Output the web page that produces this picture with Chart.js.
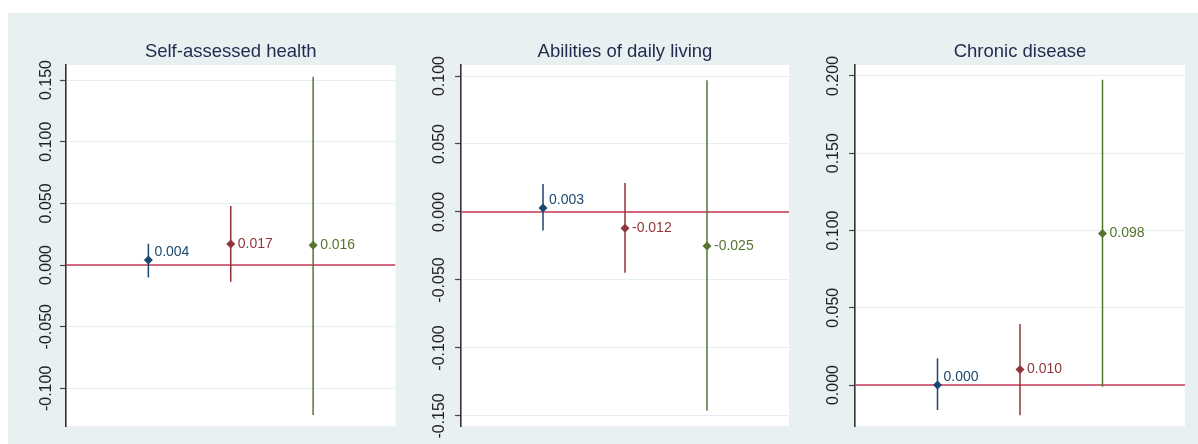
<!DOCTYPE html>
<html>
<head>
<meta charset="utf-8">
<script src="https://cdn.jsdelivr.net/npm/chart.js@4.4.8/dist/chart.umd.min.js"></script>
<style>
  html, body { margin: 0; padding: 0; background: #fff; }
  #bg { position: absolute; left: 8px; top: 13px; width: 1190px; height: 431px; background: #e9f0f2; overflow: hidden; }
  canvas { position: absolute; top: 0; }
</style>
</head>
<body>
<div id="bg">
  <canvas id="c0" width="392" height="431" style="left:0px"></canvas>
  <canvas id="c1" width="394" height="431" style="left:395px"></canvas>
  <canvas id="c2" width="401" height="431" style="left:789px"></canvas>
</div>
<script>
  // panel titles and groups
  const panelTitles = ['Self-assessed health', 'Abilities of daily living', 'Chronic disease'];
  const positions = [1, 2, 3];
  const seriesColors = ['#1a476f', '#90353b', '#55752f'];

  // self-assessed health
  const shEst = [0.004, 0.017, 0.016];
  const shLow = [-0.0100, -0.0135, -0.1215];
  const shHigh = [0.0172, 0.0478, 0.1527];
  const shTicks = [-0.10, -0.05, 0, 0.05, 0.10, 0.15];
  const shRange = [-0.1305, 0.1622];

  // abilities of daily living
  const adlEst = [0.003, -0.012, -0.025];
  const adlLow = [-0.0137, -0.0446, -0.1461];
  const adlHigh = [0.0206, 0.0213, 0.0968];
  const adlTicks = [-0.15, -0.10, -0.05, 0, 0.05, 0.10];
  const adlRange = [-0.1574, 0.1081];

  // chronic disease
  const cdEst = [0.000, 0.010, 0.098];
  const cdLow = [-0.0162, -0.0196, -0.0011];
  const cdHigh = [0.0173, 0.0395, 0.1976];
  const cdTicks = [0, 0.05, 0.10, 0.15, 0.20];
  const cdRange = [-0.0265, 0.2071];

  const FONT = "'Liberation Sans', Arial, sans-serif";

  // white plot region + title centred over the plot region (stata style)
  const plotBg = {
    id: 'plotBg',
    beforeDraw(chart) {
      const a = chart.chartArea;
      const c = chart.ctx;
      c.save();
      c.fillStyle = '#ffffff';
      c.fillRect(a.left, a.top, a.right - a.left, a.bottom - a.top);
      c.font = '18.5px ' + FONT;
      c.fillStyle = '#1f2b4e';
      c.textAlign = 'center';
      c.textBaseline = 'alphabetic';
      c.fillText(chart.options.panelTitle, (a.left + a.right) / 2, 44.3);
      c.restore();
    }
  };

  // value labels next to the markers
  const valueLabels = {
    id: 'valueLabels',
    afterDatasetsDraw(chart) {
      const c = chart.ctx;
      chart.data.datasets.forEach((ds, di) => {
        if (!ds.isEstimate) return;
        const meta = chart.getDatasetMeta(di);
        meta.data.forEach((pt, i) => {
          const dx = i == 0 ? 6 : 7;
          const dy = i == 0 ? -8 : 0;
          c.save();
          c.font = '14px ' + FONT;
          c.fillStyle = seriesColors[i];
          c.textAlign = 'left';
          c.textBaseline = 'middle';
          c.fillText(ds.data[i].y.toFixed(3), pt.x + dx, pt.y + dy);
          c.restore();
        });
      });
    }
  };

  function makePanel(id, title, est, low, high, ticks, range, padRight, tickPad) {
    const datasets = [];
    // reference line at zero
    datasets.push({
      type: 'line',
      data: [{x: 0, y: 0}, {x: 4, y: 0}],
      borderColor: '#c8385a',
      borderWidth: 1.5,
      pointRadius: 0,
      order: 3
    });
    // confidence intervals
    positions.forEach((p, i) => {
      datasets.push({
        type: 'line',
        data: [{x: p, y: low[i]}, {x: p, y: high[i]}],
        borderColor: seriesColors[i],
        borderWidth: 1.5,
        pointRadius: 0,
        order: 2
      });
    });
    // point estimates
    datasets.push({
      type: 'scatter',
      isEstimate: true,
      data: positions.map((p, i) => ({x: p, y: est[i]})),
      pointStyle: 'rectRot',
      pointRadius: 4.5,
      pointBackgroundColor: seriesColors,
      pointBorderColor: seriesColors,
      pointBorderWidth: 0,
      order: 1
    });

    new Chart(document.getElementById(id), {
      type: 'scatter',
      data: { datasets: datasets },
      options: {
        panelTitle: title,
        responsive: false,
        animation: false,
        events: [],
        layout: { padding: { left: 0, right: padRight, top: 52, bottom: 18 } },
        plugins: {
          legend: { display: false },
          tooltip: { enabled: false },
          title: { display: false }
        },
        scales: {
          x: { type: 'linear', min: 0, max: 4, display: false },
          y: {
            type: 'linear',
            min: range[0],
            max: range[1],
            afterBuildTicks(scale) {
              scale.ticks = ticks.map(v => ({ value: v }));
            },
            afterFit(scale) {
              scale.width = 58;
            },
            grid: {
              color: '#e6eef0',
              lineWidth: 1,
              tickLength: 6,
              tickColor: '#444',
              tickWidth: 1.2
            },
            border: { color: '#333', width: 1.6 },
            ticks: {
              autoSkip: false,
              minRotation: 90,
              maxRotation: 90,
              crossAlign: 'center',
              padding: tickPad,
              color: '#222',
              font: { family: FONT, size: 16 },
              callback: v => Number(v).toFixed(3)
            }
          }
        }
      },
      plugins: [plotBg, valueLabels]
    });
  }

  makePanel('c0', panelTitles[0], shEst, shLow, shHigh, shTicks, shRange, 4, -9.2);
  makePanel('c1', panelTitles[1], adlEst, adlLow, adlHigh, adlTicks, adlRange, 8, -7.7);
  makePanel('c2', panelTitles[2], cdEst, cdLow, cdHigh, cdTicks, cdRange, 13, -4.2);
</script>
</body>
</html>
